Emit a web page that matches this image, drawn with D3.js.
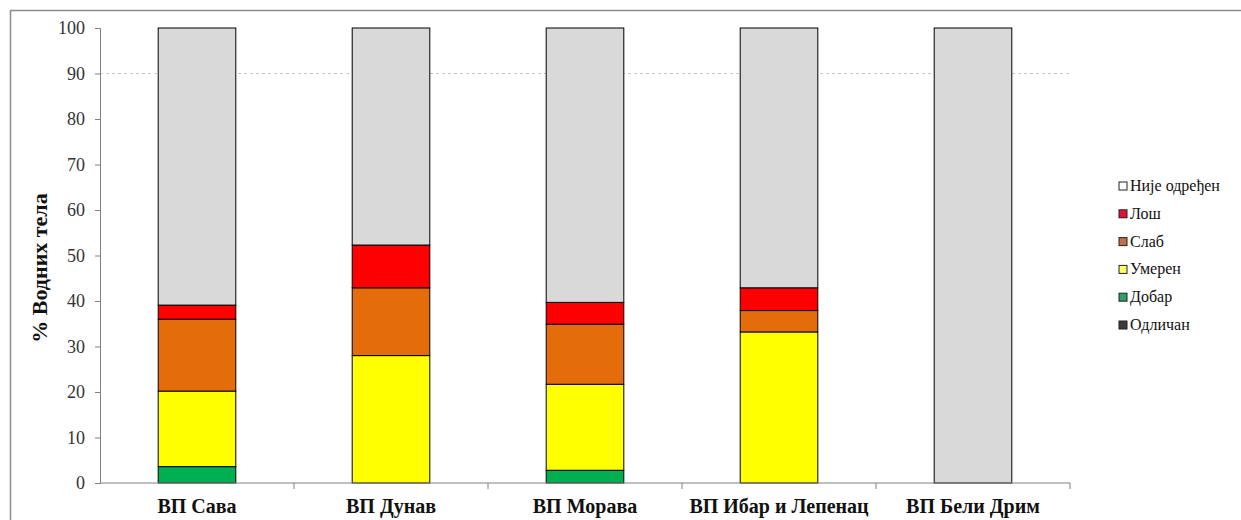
<!DOCTYPE html>
<html>
<head>
<meta charset="utf-8">
<script src="https://cdn.jsdelivr.net/npm/d3@7"></script>
<style>
  body { margin: 0; background: #fff; }
  text { font-family: "Liberation Serif", "Times New Roman", serif; }
</style>
</head>
<body>
<svg id="chart" width="1241" height="520"></svg>
<script>
// categories (river basins)
var basins = ["ВП Сава", "ВП Дунав", "ВП Морава", "ВП Ибар и Лепенац", "ВП Бели Дрим"]
// status classes, bottom to top
var classes = ["Одличан", "Добар", "Умерен", "Слаб", "Лош", "Није одређен"]
var colors = ["#404040", "#00b050", "#ffff00", "#e46c0a", "#ff0000", "#d9d9d9"]
var legendColors = ["#3a3a3a", "#2e9e6a", "#ffff66", "#c0704a", "#e0103a", "#ffffff"]

// percent of water bodies per class
var odlican = [0, 0, 0, 0, 0]
var dobar = [3.6, 0, 2.8, 0, 0]
var umeren = [16.6, 28.0, 18.9, 33.2, 0]
var slab = [15.8, 14.9, 13.2, 4.7, 0]
var los = [3.1, 9.4, 4.8, 5.0, 0]
var nije = [60.9, 47.7, 60.3, 57.1, 100]

var yTicks = [0, 10, 20, 30, 40, 50, 60, 70, 80, 90, 100]

var svg = d3.select("#chart")

// outer chart frame
svg.append("rect")
  .attr("x", 10.5).attr("y", 10.5)
  .attr("width", 1260).attr("height", 540)
  .attr("fill", "none").attr("stroke", "#8c8c8c").attr("stroke-width", 1.5)

var plotLeft = 100, plotRight = 1070, plotTop = 28, plotBottom = 483

var x = d3.scaleBand().domain(basins).range([plotLeft, plotRight]).paddingInner(0.6).paddingOuter(0.3)
var band = d3.scaleBand().domain(basins).range([plotLeft, plotRight])
var y = d3.scaleLinear().domain([0, 100]).range([plotBottom, plotTop])

// grid line (only the 90 one shows in the original)
svg.append("line")
  .attr("x1", plotLeft).attr("x2", plotRight)
  .attr("y1", y(90)).attr("y2", y(90))
  .attr("stroke", "#c8c8c8").attr("stroke-dasharray", "3,3")

var rows = basins.map(function(b, i) {
  return { basin: b, "Одличан": odlican[i], "Добар": dobar[i], "Умерен": umeren[i],
    "Слаб": slab[i], "Лош": los[i], "Није одређен": nije[i] }
})
var stacked = d3.stack().keys(classes)(rows)

svg.append("g").selectAll("g")
  .data(stacked)
  .join("g")
  .attr("fill", function(d, i) { return colors[i] })
  .selectAll("rect")
  .data(function(d) { return d.filter(function(s) { return s[1] - s[0] > 0 }) })
  .join("rect")
  .attr("x", function(d) { return x(d.data.basin) })
  .attr("width", x.bandwidth())
  .attr("y", function(d) { return y(d[1]) })
  .attr("height", function(d) { return y(d[0]) - y(d[1]) })
  .attr("stroke", "#000").attr("stroke-width", 1)

// y axis
var yAxis = svg.append("g")
  .attr("transform", "translate(" + plotLeft + ",0)")
  .call(d3.axisLeft(y).tickValues(yTicks).tickSize(5).tickPadding(10))
yAxis.select(".domain").attr("stroke", "#808080")
yAxis.selectAll(".tick line").attr("stroke", "#808080")
yAxis.selectAll("text").attr("font-size", 18).attr("fill", "#333")
  .style("font-family", "Liberation Serif, serif")

// x axis
var xAxis = svg.append("g")
  .attr("transform", "translate(0," + plotBottom + ")")
xAxis.append("line")
  .attr("x1", plotLeft).attr("x2", plotRight).attr("stroke", "#808080")
xAxis.selectAll("line.tk")
  .data(basins)
  .join("line").attr("class", "tk")
  .attr("x1", function(d) { return band(d) + band.bandwidth() })
  .attr("x2", function(d) { return band(d) + band.bandwidth() })
  .attr("y1", 0).attr("y2", 6).attr("stroke", "#808080")
xAxis.selectAll("text")
  .data(basins)
  .join("text")
  .attr("x", function(d) { return band(d) + band.bandwidth() / 2 })
  .attr("y", 30)
  .attr("text-anchor", "middle")
  .attr("font-size", 20).attr("font-weight", "bold").attr("fill", "#111")
  .text(function(d) { return d })

// y title
svg.append("text")
  .attr("transform", "translate(47,268) rotate(-90)")
  .attr("text-anchor", "middle")
  .attr("font-size", 22).attr("font-weight", "bold").attr("fill", "#111")
  .text("% Водних тела")

// legend, top entry is last class
var legend = svg.append("g").attr("transform", "translate(1119,187)")
var items = classes.slice().reverse()
var leg = legend.selectAll("g")
  .data(items)
  .join("g")
  .attr("transform", function(d, i) { return "translate(0," + i * 27.8 + ")" })
leg.append("rect")
  .attr("x", 0).attr("y", -5).attr("width", 8).attr("height", 8)
  .attr("fill", function(d) { return legendColors[classes.indexOf(d)] })
  .attr("stroke", "#222").attr("stroke-width", 1)
leg.append("text")
  .attr("x", 11).attr("y", 4)
  .attr("font-size", 16).attr("fill", "#111")
  .style("font-family", "Liberation Serif, serif")
  .text(function(d) { return d })
</script>
</body>
</html>
